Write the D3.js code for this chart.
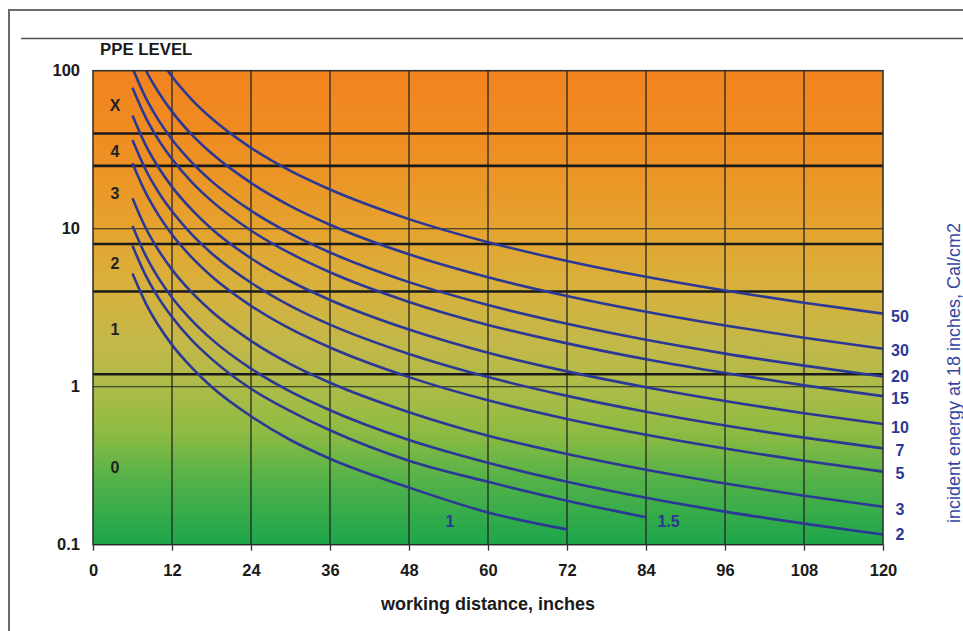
<!DOCTYPE html>
<html><head><meta charset="utf-8">
<script src="https://cdn.jsdelivr.net/npm/d3@7"></script>
<style>
html,body{margin:0;padding:0;background:#fff;}
svg{display:block;font-family:"Liberation Sans",Arial,sans-serif;}
</style></head>
<body><svg id="c" width="963" height="631"></svg>
<script>
// ---------- data ----------
const distances = [6, 8, 10, 12, 15, 18, 24, 30, 36, 48, 60, 72, 84, 96, 108, 120];
const seriesNames = ["50", "30", "20", "15", "10", "7", "5", "3", "2", "1.5", "1"];
const s50  = [260, 169, 121, 91.9, 65.7, 50, 32.5, 23.2, 17.7, 11.5, 8.22, 6.25, 4.96, 4.06, 3.40, 2.90];
const s30  = [156, 101, 72.5, 55.1, 39.4, 30, 19.5, 13.9, 10.6, 6.89, 4.93, 3.75, 2.98, 2.44, 2.04, 1.74];
const s20  = [104, 67.5, 48.3, 36.7, 26.3, 20, 13.0, 9.30, 7.07, 4.59, 3.29, 2.50, 1.98, 1.62, 1.36, 1.16];
const s15  = [78, 50.6, 36.2, 27.6, 19.7, 15, 9.74, 6.97, 5.30, 3.44, 2.46, 1.88, 1.49, 1.22, 1.02, 0.871];
const s10  = [52, 33.8, 24.2, 18.4, 13.2, 10, 6.5, 4.65, 3.54, 2.30, 1.64, 1.25, 0.992, 0.812, 0.680, 0.581];
const s7   = [36.4, 23.6, 16.9, 12.9, 9.2, 7, 4.55, 3.25, 2.47, 1.61, 1.15, 0.875, 0.694, 0.568, 0.476, 0.407];
const s5   = [26, 16.9, 12.1, 9.19, 6.58, 5, 3.25, 2.32, 1.77, 1.15, 0.82, 0.625, 0.496, 0.406, 0.340, 0.290];
const s3   = [15.6, 10.1, 7.25, 5.51, 3.95, 3, 1.95, 1.39, 1.06, 0.69, 0.49, 0.375, 0.298, 0.244, 0.204, 0.174];
const s2   = [10.4, 6.75, 4.83, 3.67, 2.63, 2, 1.30, 0.93, 0.71, 0.46, 0.33, 0.25, 0.198, 0.162, 0.136, 0.116];
const s1_5 = [7.8, 5.06, 3.62, 2.76, 1.97, 1.5, 0.97, 0.70, 0.53, 0.34, 0.25, 0.19, 0.149];
const s1   = [5.2, 3.38, 2.42, 1.84, 1.32, 1.0, 0.65, 0.46, 0.35, 0.23, 0.16, 0.125];
const seriesValues = [s50, s30, s20, s15, s10, s7, s5, s3, s2, s1_5, s1];

const xTicks = [0, 12, 24, 36, 48, 60, 72, 84, 96, 108, 120];
const yTicks = [0.1, 1, 10, 100];
const yTickLabels = ["0.1", "1", "10", "100"];
const ppeBoundaries = [1.2, 4, 8, 25, 40];
const ppeLabels = ["0", "1", "2", "3", "4", "X"];
const ppeLabelValues = [0.31, 2.3, 6.0, 16.8, 31, 60];

// ---------- layout ----------
const svg = d3.select("#c");
const L = 93, R = 883, T = 70.7, B = 544.7;
const x = d3.scaleLinear().domain([0, 120]).range([L, R]);
const y = d3.scaleLog().domain([0.1, 100]).range([B, T]);
const FONT = "'Liberation Sans',Arial,sans-serif";

// frame
svg.append("line").attr("x1", 9).attr("x2", 963).attr("y1", 10).attr("y2", 10).attr("stroke", "#6b6b6b").attr("stroke-width", 2);
svg.append("line").attr("x1", 9).attr("x2", 9).attr("y1", 9).attr("y2", 631).attr("stroke", "#6b6b6b").attr("stroke-width", 2);
svg.append("line").attr("x1", 21).attr("x2", 963).attr("y1", 38.5).attr("y2", 38.5).attr("stroke", "#555").attr("stroke-width", 1.5);

// background gradient
const defs = svg.append("defs");
const g = defs.append("linearGradient").attr("id", "bg").attr("x1", 0).attr("x2", 0).attr("y1", 0).attr("y2", 1);
[[0, "#F2831F"], [0.15, "#EF8D22"], [0.32, "#E6A12D"], [0.45, "#D9B03C"], [0.58, "#C2B84A"], [0.68, "#A9BC47"], [0.76, "#8FBB42"], [0.86, "#55B249"], [1, "#1BA64B"]]
  .forEach(([o, c]) => g.append("stop").attr("offset", o).attr("stop-color", c));
svg.append("rect").attr("x", L).attr("y", T).attr("width", R - L).attr("height", B - T).attr("fill", "url(#bg)");

defs.append("clipPath").attr("id", "clip").append("rect").attr("x", L).attr("y", T).attr("width", R - L).attr("height", B - T);

// vertical grid
svg.append("g").selectAll("line").data(xTicks.slice(1, -1)).join("line")
  .attr("x1", d => x(d)).attr("x2", d => x(d)).attr("y1", T).attr("y2", B)
  .attr("stroke", "#262626").attr("stroke-width", 1.3);
// decade lines
svg.append("g").selectAll("line").data([1, 10]).join("line")
  .attr("x1", L).attr("x2", R).attr("y1", d => y(d)).attr("y2", d => y(d))
  .attr("stroke", "#262626").attr("stroke-width", 1.1);
// PPE boundaries
svg.append("g").selectAll("line").data(ppeBoundaries).join("line")
  .attr("x1", L).attr("x2", R).attr("y1", d => y(d)).attr("y2", d => y(d))
  .attr("stroke", "#1a1a1a").attr("stroke-width", 2.6);

// curves
const line = d3.line().x(d => x(d[0])).y(d => y(d[1])).curve(d3.curveMonotoneX);
const curves = svg.append("g").attr("clip-path", "url(#clip)");
seriesValues.forEach(vals => {
  const pts = vals.map((v, i) => [distances[i], v]);
  curves.append("path").attr("d", line(pts)).attr("fill", "none")
    .attr("stroke", "#2C3896").attr("stroke-width", 2.6);
});

// border
svg.append("rect").attr("x", L).attr("y", T).attr("width", R - L).attr("height", B - T)
  .attr("fill", "none").attr("stroke", "#2a2a2a").attr("stroke-width", 1.5);

// x axis
const xAxis = d3.axisBottom(x).tickValues(xTicks).tickSize(6).tickPadding(14);
const xa = svg.append("g").attr("transform", `translate(0,${B})`).call(xAxis);
xa.select(".domain").remove();
xa.selectAll("line").attr("stroke", "#333").attr("stroke-width", 1.3);
xa.selectAll("text").attr("font-size", 16.5).attr("font-weight", "bold").attr("fill", "#1a1a1a")
  .attr("font-family", FONT);

// y axis
const yAxis = d3.axisLeft(y).tickValues(yTicks).tickFormat((d, i) => yTickLabels[i]).tickSize(0).tickPadding(13);
const ya = svg.append("g").attr("transform", `translate(${L},0)`).call(yAxis);
ya.select(".domain").remove();
ya.selectAll("text").attr("font-size", 16.5).attr("font-weight", "bold").attr("fill", "#1a1a1a")
  .attr("font-family", FONT);

// PPE labels
svg.append("g").selectAll("text").data(ppeLabels).join("text")
  .attr("x", 115).attr("y", (d, i) => y(ppeLabelValues[i])).attr("dy", "0.35em")
  .attr("text-anchor", "middle").attr("font-size", 16).attr("font-weight", "bold").attr("fill", "#222")
  .text(d => d);
svg.append("text").attr("x", 100).attr("y", 55).attr("font-size", 16.8).attr("font-weight", "bold")
  .attr("fill", "#1a1a1a").text("PPE LEVEL");

// right labels
const labelOffsets = {"50": 3, "30": 2, "20": 0, "15": 2, "10": 3, "7": 2, "5": 2, "3": 3, "2": 0};
const rl = svg.append("g");
seriesNames.forEach((n, i) => {
  const vals = seriesValues[i];
  if (vals.length === distances.length) {
    rl.append("text").attr("x", 900).attr("y", y(vals[vals.length - 1]) + labelOffsets[n]).attr("dy", "0.35em")
      .attr("text-anchor", "middle").attr("font-size", 16).attr("font-weight", "bold").attr("fill", "#2C3896").text(n);
  }
});
// inner labels for 1 and 1.5
rl.append("text").attr("x", 450).attr("y", 521.5).attr("dy", "0.35em").attr("text-anchor", "middle")
  .attr("font-size", 16).attr("font-weight", "bold").attr("fill", "#2C3896").text("1");
rl.append("text").attr("x", 668.5).attr("y", 521.5).attr("dy", "0.35em").attr("text-anchor", "middle")
  .attr("font-size", 16).attr("font-weight", "bold").attr("fill", "#2C3896").text("1.5");

// axis titles
svg.append("text").attr("x", 488).attr("y", 610).attr("text-anchor", "middle").attr("font-size", 18)
  .attr("font-weight", "bold").attr("fill", "#1a1a1a").text("working distance, inches");
svg.append("text").attr("transform", "translate(960,373) rotate(-90)").attr("text-anchor", "middle")
  .attr("font-size", 18).attr("fill", "#3347A3").text("incident energy at 18 inches, Cal/cm2");
</script></body></html>
